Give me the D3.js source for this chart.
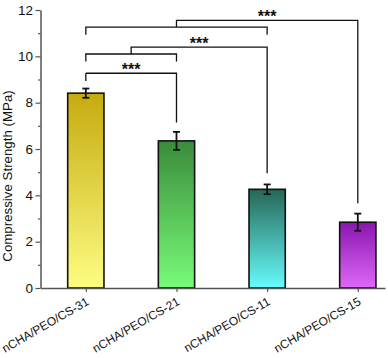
<!DOCTYPE html>
<html>
<head>
<meta charset="utf-8">
<script src="https://cdn.jsdelivr.net/npm/d3@7"></script>
<style>
  html, body { margin: 0; padding: 0; background: #fff; }
  svg { display: block; font-family: "Liberation Sans", Arial, sans-serif; }
</style>
</head>
<body>
<svg id="chart" width="388" height="358"></svg>
<script>
// bar data
var categories = ["nCHA/PEO/CS-31", "nCHA/PEO/CS-21", "nCHA/PEO/CS-11", "nCHA/PEO/CS-15"];
var strength = [8.41, 6.35, 4.26, 2.84];
var errors = [0.20, 0.39, 0.21, 0.37];
var yTicks = [0, 2, 4, 6, 8, 10, 12];
var yMinorTicks = [1, 3, 5, 7, 9, 11];

// significance brackets (bar positions are 1-based)
var sigLabels = ["***", "***", "***"];
var sigGroupFrom = [1, 1, 1];
var sigGroupTo = [1, 2, 3];
var sigTarget = [2, 3, 4];
var sigLegY = [8.94, 9.78, 10.93];
var sigGroupY = [9.27, 10.1, 11.26];
var sigTopY = [9.27, 10.4, 11.55];
var sigTargetY = [7.14, 4.95, 3.66];

// gradient colours top -> bottom
var topColors = ["#c6ab0e", "#3a8c3a", "#276656", "#8a16b0"];
var bottomColors = ["#fdfd82", "#78fc78", "#66fcfc", "#dd68f6"];

var svg = d3.select('#chart');
var axisColor = '#555';

var x = d3.scaleLinear().domain([0.5, 4.3]).range([40.5, 385]);
var y = d3.scaleLinear().domain([0, 12]).range([288, 10]);
var barW = x(1.4) - x(1);

//Gradients
var defs = svg.append('defs');
categories.forEach(function(c, i) {
    var g = defs.append('linearGradient')
        .attr('id', 'grad' + i)
        .attr('x1', 0).attr('y1', 0).attr('x2', 0).attr('y2', 1);
    g.append('stop').attr('offset', '0%').attr('stop-color', topColors[i]);
    g.append('stop').attr('offset', '100%').attr('stop-color', bottomColors[i]);
});

//Bars
svg.selectAll('.bar')
    .data(strength)
    .enter()
    .append('rect')
    .attr('class', 'bar')
    .attr('x', function(d, i) { return x(i + 1) - barW / 2; })
    .attr('y', function(d) { return y(d); })
    .attr('width', barW)
    .attr('height', function(d) { return y(0) - y(d); })
    .attr('fill', function(d, i) { return 'url(#grad' + i + ')'; })
    .attr('stroke', '#111')
    .attr('stroke-width', 1.6);

//Error bars
var eb = svg.selectAll('.err')
    .data(strength)
    .enter()
    .append('g')
    .attr('class', 'err')
    .attr('stroke', '#111')
    .attr('stroke-width', 1.8);
eb.append('line')
    .attr('x1', function(d, i) { return x(i + 1); })
    .attr('x2', function(d, i) { return x(i + 1); })
    .attr('y1', function(d, i) { return y(d + errors[i]); })
    .attr('y2', function(d, i) { return y(d - errors[i]); });
[1, -1].forEach(function(s) {
    eb.append('line')
        .attr('x1', function(d, i) { return x(i + 1) - 3.5; })
        .attr('x2', function(d, i) { return x(i + 1) + 3.5; })
        .attr('y1', function(d, i) { return y(d + s * errors[i]); })
        .attr('y2', function(d, i) { return y(d + s * errors[i]); });
});

//Axes
var yAxis = svg.append('g')
    .attr('transform', 'translate(' + x(0.5) + ',0)')
    .call(d3.axisLeft(y).tickValues(yTicks).tickSize(5).tickPadding(2.5).tickSizeOuter(0));
var yMinor = svg.append('g')
    .attr('transform', 'translate(' + x(0.5) + ',0)')
    .call(d3.axisLeft(y).tickValues(yMinorTicks).tickSize(2.5).tickFormat('').tickSizeOuter(0));
yMinor.select('.domain').remove();

var xAxis = svg.append('g')
    .attr('transform', 'translate(0,' + y(0) + ')')
    .call(d3.axisBottom(x).tickValues([1, 2, 3, 4]).tickSize(4).tickFormat('').tickSizeOuter(0));

[yAxis, yMinor, xAxis].forEach(function(a) {
    a.select('.domain').attr('stroke', axisColor).attr('stroke-width', 1.5);
    a.selectAll('.tick line').attr('stroke', axisColor).attr('stroke-width', 1.2);
});
yAxis.selectAll('.tick text')
    .attr('fill', '#111')
    .style('font-size', '13.5px')
    .style('font-family', '"Liberation Sans", Arial, sans-serif');

//Rotated category labels
svg.selectAll('.xlabel')
    .data(categories)
    .enter()
    .append('text')
    .attr('class', 'xlabel')
    .attr('transform', function(d, i) { return 'translate(' + (x(i + 1) + 4) + ',304) rotate(-30)'; })
    .attr('text-anchor', 'end')
    .attr('fill', '#111')
    .style('font-size', '12px')
    .text(function(d) { return d; });

//Y axis title
svg.append('text')
    .attr('transform', 'translate(12,' + ((y(0) + y(12)) / 2 + 27) + ') rotate(-90)')
    .attr('text-anchor', 'middle')
    .attr('fill', '#111')
    .style('font-size', '13.3px')
    .text('Compressive Strength (MPa)');

//Significance brackets
var br = svg.append('g')
    .attr('fill', 'none')
    .attr('stroke', '#111')
    .attr('stroke-width', 1.3);
sigLabels.forEach(function(lab, i) {
    var a = sigGroupFrom[i], b = sigGroupTo[i], mid = (a + b) / 2, t = sigTarget[i];
    var p = d3.path();
    // group bracket
    p.moveTo(x(a), y(sigLegY[i]));
    p.lineTo(x(a), y(sigGroupY[i]));
    p.lineTo(x(b), y(sigGroupY[i]));
    p.lineTo(x(b), y(sigLegY[i]));
    // stem and top line to target
    p.moveTo(x(mid), y(sigGroupY[i]));
    p.lineTo(x(mid), y(sigTopY[i]));
    p.lineTo(x(t), y(sigTopY[i]));
    p.lineTo(x(t), y(sigTargetY[i]));
    br.append('path').attr('d', p.toString());

    svg.append('text')
        .attr('x', x((mid + t) / 2))
        .attr('y', y(sigTopY[i]) + 1.5)
        .attr('text-anchor', 'middle')
        .attr('fill', '#111')
        .style('font-size', '16px')
        .style('font-weight', 'bold')
        .text(lab);
});
</script>
</body>
</html>
